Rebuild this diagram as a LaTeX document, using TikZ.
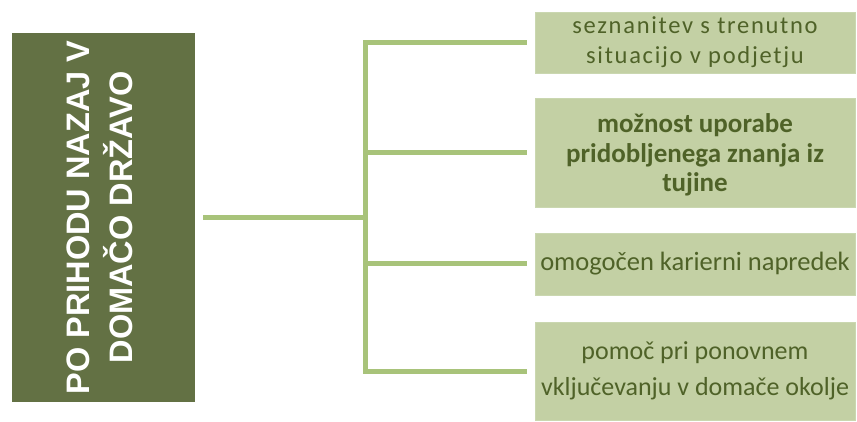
\documentclass[tikz,border=0pt]{standalone}
\usepackage{fontspec}
\setmainfont{Carlito}
\newfontfamily\titlefont{Liberation Sans}
\newfontfamily\spacedfont[LetterSpace=7]{Carlito}
\definecolor{darkolive}{HTML}{637144}
\definecolor{connline}{HTML}{A8C37A}
\definecolor{leaffill}{HTML}{C3D0A4}
\definecolor{leafedge}{HTML}{CAD7B0}
\definecolor{leaftext}{HTML}{4F6228}
\begin{document}
\begin{tikzpicture}[x=1pt,y=-1pt,
  titlebox/.style={fill=darkolive, draw=none, inner sep=0pt},
  titletext/.style={inner sep=0pt, text=white, align=center,
    font=\titlefont\bfseries\fontsize{32.5}{39}\selectfont},
  leaf/.style={fill=leaffill, draw=leafedge, line width=0.8pt, inner sep=0pt,
    minimum width=320pt, text width=320pt, align=flush center, text=leaftext},
  leaftxt/.style={inner sep=0pt, text width=320pt, align=flush center, text=leaftext},
  conn/.style={draw=connline, line width=5pt}]
\useasboundingbox (0,0) rectangle (857,422);

\node[titlebox, minimum width=183pt, minimum height=369pt] (L) at (103.5,217.5) {};
\node[titletext, rotate=90] (T) at (99.5,217.5)
  {PO PRIHODU NAZAJ V\\[4pt]DOMAČO DRŽAVO};

\node[leaf, minimum height=61pt, font=\spacedfont\fontsize{24.5}{30}\selectfont] (b1) at (695,42.5)
  {seznanitev s trenutno\\situacijo v podjetju};
\node[leaf, minimum height=109pt] (b2) at (695,152.5) {};
\node[leaftxt, font=\bfseries\fontsize{27}{29.5}\selectfont] (b2t) at (695,155)
  {možnost uporabe\\pridobljenega znanja iz\\tujine};
\node[leaf, minimum height=62pt, font=\fontsize{26.5}{30}\selectfont] (b3) at (695,264)
  {omogočen karierni napredek};
\node[leaf, minimum height=98pt, font=\fontsize{26}{36}\selectfont] (b4) at (695,371)
  {pomoč pri ponovnem\\\makebox[320pt]{vključevanju v domače okolje}};

\coordinate (hub) at (365,217.5);

\draw[conn] ([xshift=8pt]L.east) -- (hub);
\draw[conn, line cap=rect] (b1.west -| hub) -- (b4.west -| hub);
\foreach \b in {b1,b2,b3,b4}
  \draw[conn] (\b.west -| hub) -- ([xshift=-8pt]\b.west);
\end{tikzpicture}
\end{document}
